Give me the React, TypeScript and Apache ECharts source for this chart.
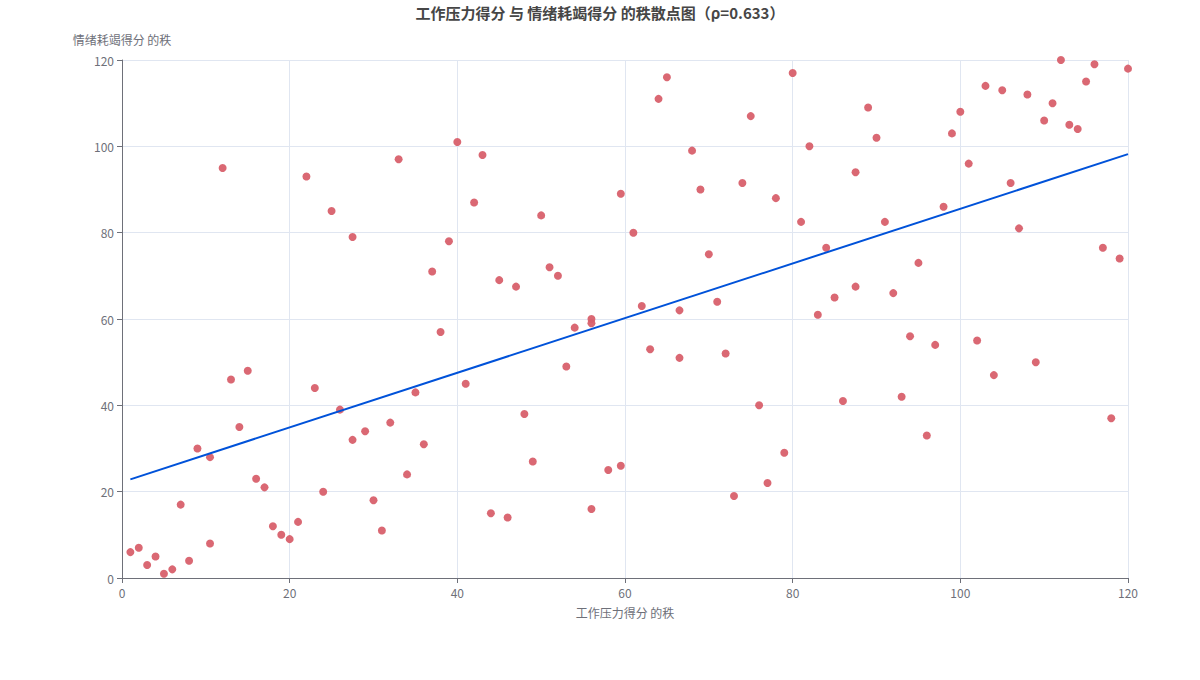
import React, { useEffect, useRef } from "react";
import * as echarts from "echarts";

const titleText = "工作压力得分 与 情绪耗竭得分 的秩散点图（ρ=0.633）";
const xName = "工作压力得分 的秩";
const yName = "情绪耗竭得分 的秩";

const xRanks = [
  1, 2, 3, 4, 5, 6, 7, 8, 9, 10.5, 10.5, 12, 13, 14, 15, 16, 17, 18, 19, 20,
  21, 22, 23, 24, 25, 26, 27.5, 27.5, 29, 30, 31, 32, 33, 34, 35, 36, 37, 38, 39, 40,
  41, 42, 43, 44, 45, 46, 47, 48, 49, 50, 51, 52, 53, 54, 56, 56, 56, 58, 59.5, 59.5,
  61, 62, 63, 64, 65, 66.5, 66.5, 68, 69, 70, 71, 72, 73, 74, 75, 76, 77, 78, 79, 80,
  81, 82, 83, 84, 85, 86, 87.5, 87.5, 89, 90, 91, 92, 93, 94, 95, 96, 97, 98, 99, 100,
  101, 102, 103, 104, 105, 106, 107, 108, 109, 110, 111, 112, 113, 114, 115, 116, 117, 118, 119, 120,
];
const yRanks = [
  6, 7, 3, 5, 1, 2, 17, 4, 30, 8, 28, 95, 46, 35, 48, 23, 21, 12, 10, 9,
  13, 93, 44, 20, 85, 39, 79, 32, 34, 18, 11, 36, 97, 24, 43, 31, 71, 57, 78, 101,
  45, 87, 98, 15, 69, 14, 67.5, 38, 27, 84, 72, 70, 49, 58, 60, 59, 16, 25, 89, 26,
  80, 63, 53, 111, 116, 62, 51, 99, 90, 75, 64, 52, 19, 91.5, 107, 40, 22, 88, 29, 117,
  82.5, 100, 61, 76.5, 65, 41, 94, 67.5, 109, 102, 82.5, 66, 42, 56, 73, 33, 54, 86, 103, 108,
  96, 55, 114, 47, 113, 91.5, 81, 112, 50, 106, 110, 120, 105, 104, 115, 119, 76.5, 37, 74, 118,
];
const fitX = [1, 120];
const fitY = [22.85, 98.2];

const axisTicks = { min: 0, max: 120, interval: 20 };

export default function App() {
  const ref = useRef<HTMLDivElement>(null);
  useEffect(() => {
    if (!ref.current) return;
    const chart = echarts.init(ref.current, undefined, { renderer: "svg" });
    const font = "'Noto Sans CJK SC', 'Noto Sans', sans-serif";
    chart.setOption({
      animation: false,
      textStyle: { fontFamily: font },
      title: {
        text: titleText,
        left: "center",
        top: 0,
        textStyle: { fontSize: 15, fontWeight: "bold", color: "#464646", fontFamily: font },
      },
      grid: { left: 122, right: 72, top: 60, bottom: 102 },
      xAxis: {
        type: "value",
        ...axisTicks,
        name: xName,
        nameLocation: "middle",
        nameGap: 28,
        nameTextStyle: { color: "#6E7079", fontSize: 12 },
        axisLine: { show: true, lineStyle: { color: "#6E7079" } },
        axisTick: { show: true },
        axisLabel: { color: "#6E7079", fontSize: 12 },
        splitLine: { show: true, lineStyle: { color: "#E0E6F1" } },
      },
      yAxis: {
        type: "value",
        ...axisTicks,
        name: yName,
        nameTextStyle: { color: "#6E7079", fontSize: 12 },
        axisLine: { show: true, lineStyle: { color: "#6E7079" } },
        axisTick: { show: true },
        axisLabel: { color: "#6E7079", fontSize: 12 },
        splitLine: { show: true, lineStyle: { color: "#E0E6F1" } },
      },
      series: [
        {
          type: "scatter",
          data: xRanks.map((x, i) => [x, yRanks[i]]),
          symbolSize: 8,
          itemStyle: { color: "#d8606c", opacity: 0.95 },
        },
        {
          type: "line",
          data: fitX.map((x, i) => [x, fitY[i]]),
          showSymbol: false,
          symbol: "none",
          lineStyle: { color: "#0052d9", width: 2 },
          itemStyle: { color: "#0052d9" },
        },
      ],
    });
    return () => chart.dispose();
  }, []);
  return (
    <div
      ref={ref}
      style={{ position: "absolute", left: 0, top: 0, width: 1200, height: 680 }}
    />
  );
}
